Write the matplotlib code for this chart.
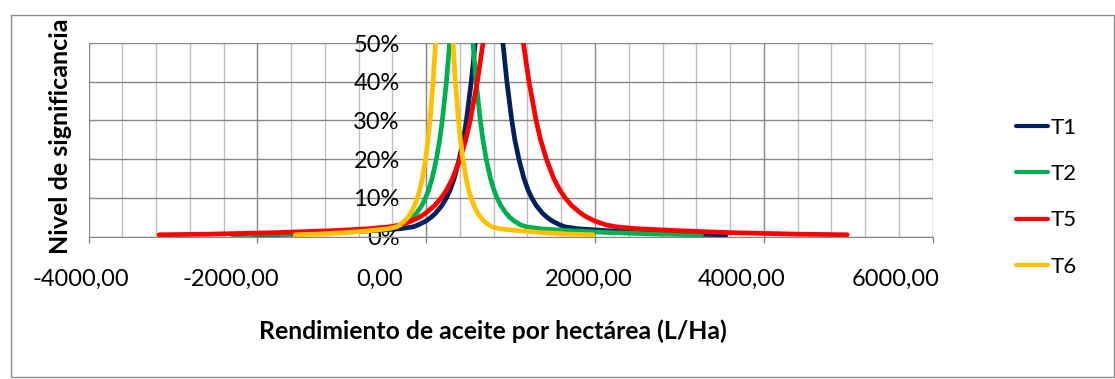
import matplotlib
matplotlib.use("Agg")
import matplotlib.pyplot as plt
from matplotlib.ticker import MultipleLocator, FuncFormatter
from matplotlib.patches import Rectangle
import matplotlib.transforms as mtransforms

# Significance levels (%) and the lower / upper confidence bounds (L/Ha)
alpha = [0.45, 0.6, 1, 1.5, 2, 2.5, 3, 4, 5, 6, 8, 10, 12, 15, 20, 25, 30, 40, 50, 60, 70, 80, 90, 100]

t1_lower = [-2063, -1663, -1104, -653, -309, -154, -94, -3, 61, 111, 186, 240, 283, 332, 392, 440, 476, 534, 581, 620, 655, 685, 715, 745]
t1_upper = [3553, 3153, 2594, 2143, 1799, 1644, 1584, 1493, 1429, 1379, 1304, 1250, 1207, 1158, 1098, 1050, 1014, 956, 909, 870, 835, 805, 775, 745]

t2_lower = [-2300, -1900, -1349, -871, -519, -359, -286, -210, -156, -115, -52, -7, 29, 70, 121, 160, 191, 240, 278, 312, 340, 366, 391, 416]
t2_upper = [3260, 2795, 2181, 1703, 1351, 1191, 1118, 1042, 988, 947, 884, 839, 803, 762, 711, 672, 641, 592, 554, 520, 492, 466, 441, 416]

t5_lower = [-3163, -2582, -1771, -1116, -680, -430, -305, -174, -80, -8, 101, 179, 241, 313, 400, 469, 522, 606, 673, 731, 781, 825, 868, 912]
t5_upper = [4987, 4406, 3595, 2980, 2500, 2250, 2129, 1998, 1904, 1832, 1723, 1645, 1583, 1511, 1424, 1355, 1302, 1218, 1151, 1093, 1043, 999, 956, 912]

t6_lower = [-1549, -1298, -947, -664, -448, -350, -313, -256, -215, -184, -137, -103, -76, -45, -7, 22, 45, 82, 111, 136, 157, 176, 195, 214]
t6_upper = [1977, 1726, 1375, 1092, 876, 778, 741, 684, 643, 612, 565, 531, 504, 473, 435, 406, 383, 346, 317, 292, 271, 252, 233, 214]

series_names = ["T1", "T2", "T5", "T6"]
series_colors = ["#002060", "#00B050", "#FF0000", "#FFC000"]
bounds = [(t1_lower, t1_upper), (t2_lower, t2_upper), (t5_lower, t5_upper), (t6_lower, t6_upper)]

x_ticks = [-4000, -2000, 0, 2000, 4000, 6000]

plt.rcParams["font.family"] = ["Lato", "DejaVu Sans"]

W, H = 1115, 379
fig = plt.figure(figsize=(W / 100, H / 100), dpi=100)

# chart area border
fig.patches.append(Rectangle((10.5 / W, 1 - 377 / H), (1113.5 - 10.5) / W, (377 - 15) / H,
                             transform=fig.transFigure, fill=False,
                             edgecolor="#8C8C8C", lw=1.0, zorder=0))

left, right, top, bottom = 88.5, 932.7, 43.0, 236.5
ax = fig.add_axes([left / W, 1 - bottom / H, (right - left) / W, (bottom - top) / H])

for (lo, up), name, col in zip(bounds, series_names, series_colors):
    xs = list(lo) + list(up)[-2::-1]
    ys = list(alpha) + list(alpha)[-2::-1]
    ax.plot(xs, ys, color=col, lw=3.4, label=name,
            solid_joinstyle="round", solid_capstyle="round", zorder=3)

ax.set_xlim(-4000, 6000)
ax.set_ylim(0, 50)
ax.set_xticks(x_ticks)
ax.xaxis.set_minor_locator(MultipleLocator(400))
ax.yaxis.set_major_locator(MultipleLocator(10))
ax.xaxis.set_major_formatter(FuncFormatter(lambda v, p: f"{v:.2f}".replace(".", ",")))
ax.yaxis.set_major_formatter(FuncFormatter(lambda v, p: f"{v:.0f}%"))

ax.set_axisbelow(True)
ax.grid(which="major", color="#878787", lw=1.0)
ax.grid(which="minor", axis="x", color="#BFBFBF", lw=1.0)

for s in ("top", "right"):
    ax.spines[s].set_visible(False)
ax.spines["left"].set_position(("data", 0))
ax.spines["left"].set_color("#878787")
ax.spines["bottom"].set_color("#878787")
ax.spines["left"].set_zorder(1)
ax.spines["bottom"].set_zorder(1)

ax.tick_params(axis="x", which="major", direction="out", length=4, width=1.0,
               color="#878787", labelsize=17, pad=19)
ax.tick_params(axis="x", which="minor", length=0)
ax.tick_params(axis="y", length=0, labelsize=17, pad=19)

# shift the value labels slightly left, as laid out on the sheet
shifts = [-8, -27, -47, -6, -22, -37]
for lab, dx in zip(ax.get_xticklabels(), shifts):
    lab.set_transform(lab.get_transform() + mtransforms.ScaledTranslation(dx / 100, 0, fig.dpi_scale_trans))

fig.text(493 / W, 1 - 331 / H, "Rendimiento de aceite por hectárea (L/Ha)",
         ha="center", va="center", fontsize=17.8, fontweight="bold")
fig.text(60 / W, 1 - 136 / H, "Nivel de significancia", rotation=90,
         ha="center", va="center", fontsize=18, fontweight="bold")

leg = ax.legend(loc="upper left", bbox_to_anchor=(1016 / W, 1 - 118 / H),
                bbox_transform=fig.transFigure, frameon=False, fontsize=16,
                handlelength=1.45, handletextpad=0.1, labelspacing=1.18,
                borderpad=0, borderaxespad=0)
for line in leg.get_lines():
    line.set_linewidth(3.0)

fig.savefig("out.png", dpi=100)
